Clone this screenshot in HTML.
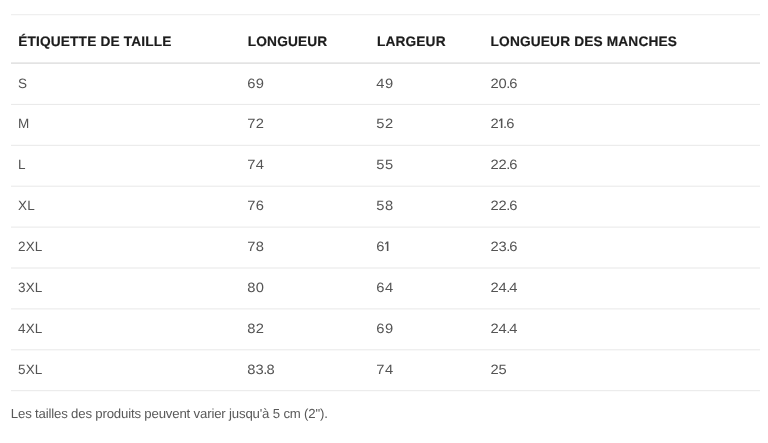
<!DOCTYPE html>
<html>
<head>
<meta charset="utf-8">
<style>
html,body{margin:0;padding:0;background:#fff;}
body{width:768px;height:443px;overflow:hidden;position:relative;font-family:"Liberation Sans",sans-serif;}
#wrap{will-change:transform;position:absolute;left:0;top:0;width:768px;height:443px;}
#lines{position:absolute;left:0;top:0;}
.h,.c,.note{position:absolute;white-space:nowrap;line-height:20px;height:20px;}
.h{font-weight:bold;font-size:13.7px;color:#1c1c1c;letter-spacing:0.16px;text-rendering:geometricPrecision;-webkit-text-stroke:0.18px #1c1c1c;}
.c{font-size:13.5px;color:#545454;text-rendering:geometricPrecision;letter-spacing:.55px;}
.c.k0{letter-spacing:.15px;}
.c.k1,.c.k2,.c.k3{transform:scaleX(1.09);transform-origin:0 0;letter-spacing:.35px;}
.c.k3{letter-spacing:0;}
.c b{font-weight:normal;margin:0 -0.9px 0 -0.6px;}
.one{display:inline-block;vertical-align:baseline;fill:#545454;margin:0 .45px 0 .4px;overflow:visible;}
.k2 .one{margin-left:-.3px;}
.note{left:10.8px;top:406px;font-size:13.2px;color:#595959;letter-spacing:-0.17px;line-height:normal;height:auto;text-rendering:geometricPrecision;}
</style>
</head>
<body>
<div id="wrap">
<svg id="lines" width="768" height="443" viewBox="0 0 768 443">
<rect x="11" y="14.20" width="749" height="1" fill="#ebebeb"/>
<rect x="11" y="62.30" width="749" height="1.7" fill="#e3e3e3"/>
<rect x="11" y="103.90" width="749" height="1" fill="#e8e8e8"/>
<rect x="11" y="144.80" width="749" height="1" fill="#e8e8e8"/>
<rect x="11" y="185.70" width="749" height="1" fill="#e8e8e8"/>
<rect x="11" y="226.60" width="749" height="1" fill="#e8e8e8"/>
<rect x="11" y="267.50" width="749" height="1" fill="#e8e8e8"/>
<rect x="11" y="308.40" width="749" height="1" fill="#e8e8e8"/>
<rect x="11" y="349.30" width="749" height="1" fill="#e8e8e8"/>
<rect x="11" y="390.20" width="749" height="1" fill="#e8e8e8"/>
</svg>
<div class="h" style="left:18.2px;top:32px">ÉTIQUETTE DE TAILLE</div>
<div class="h" style="left:247.8px;top:32px">LONGUEUR</div>
<div class="h" style="left:376.9px;top:32px">LARGEUR</div>
<div class="h" style="left:490.6px;top:32px">LONGUEUR DES MANCHES</div>
<div class="c k0" style="left:18.0px;top:74px;padding-left:0px">S</div>
<div class="c k1" style="left:247px;top:74px;padding-left:0.2px">69</div>
<div class="c k2" style="left:376px;top:74px;padding-left:0.3px">49</div>
<div class="c k3" style="left:490px;top:74px;padding-left:0.4px">20<b>.</b>6</div>
<div class="c k0" style="left:18.0px;top:114px;padding-left:0px">M</div>
<div class="c k1" style="left:247px;top:114px;padding-left:0.2px">72</div>
<div class="c k2" style="left:376px;top:114px;padding-left:0.3px">52</div>
<div class="c k3" style="left:490px;top:114px;padding-left:0.4px">2<svg class="one" width="3.85" height="10" viewBox="0 0 4.2 10" preserveAspectRatio="none"><path d="M2.15 0.55H3.7V10H2.15V2.35L0.75 3.55L0.1 2.65Z"/></svg><b>.</b>6</div>
<div class="c k0" style="left:18.0px;top:155px;padding-left:0px">L</div>
<div class="c k1" style="left:247px;top:155px;padding-left:0.2px">74</div>
<div class="c k2" style="left:376px;top:155px;padding-left:0.3px">55</div>
<div class="c k3" style="left:490px;top:155px;padding-left:0.4px">22<b>.</b>6</div>
<div class="c k0" style="left:18.0px;top:196px;padding-left:0px">XL</div>
<div class="c k1" style="left:247px;top:196px;padding-left:0.2px">76</div>
<div class="c k2" style="left:376px;top:196px;padding-left:0.3px">58</div>
<div class="c k3" style="left:490px;top:196px;padding-left:0.4px">22<b>.</b>6</div>
<div class="c k0" style="left:18.0px;top:237px;padding-left:0px">2XL</div>
<div class="c k1" style="left:247px;top:237px;padding-left:0.2px">78</div>
<div class="c k2" style="left:376px;top:237px;padding-left:0.3px">6<svg class="one" width="3.85" height="10" viewBox="0 0 4.2 10" preserveAspectRatio="none"><path d="M2.15 0.55H3.7V10H2.15V2.35L0.75 3.55L0.1 2.65Z"/></svg></div>
<div class="c k3" style="left:490px;top:237px;padding-left:0.4px">23<b>.</b>6</div>
<div class="c k0" style="left:18.0px;top:278px;padding-left:0px">3XL</div>
<div class="c k1" style="left:247px;top:278px;padding-left:0.2px">80</div>
<div class="c k2" style="left:376px;top:278px;padding-left:0.3px">64</div>
<div class="c k3" style="left:490px;top:278px;padding-left:0.4px">24<b>.</b>4</div>
<div class="c k0" style="left:18.0px;top:319px;padding-left:0px">4XL</div>
<div class="c k1" style="left:247px;top:319px;padding-left:0.2px">82</div>
<div class="c k2" style="left:376px;top:319px;padding-left:0.3px">69</div>
<div class="c k3" style="left:490px;top:319px;padding-left:0.4px">24<b>.</b>4</div>
<div class="c k0" style="left:18.0px;top:360px;padding-left:0px">5XL</div>
<div class="c k1" style="left:247px;top:360px;padding-left:0.2px;letter-spacing:.1px">83<b>.</b>8</div>
<div class="c k2" style="left:376px;top:360px;padding-left:0.3px">74</div>
<div class="c k3" style="left:490px;top:360px;padding-left:0.4px">25</div>
<div class="note">Les tailles des produits peuvent varier jusqu'à 5 cm (2").</div>
</div>
</body>
</html>
